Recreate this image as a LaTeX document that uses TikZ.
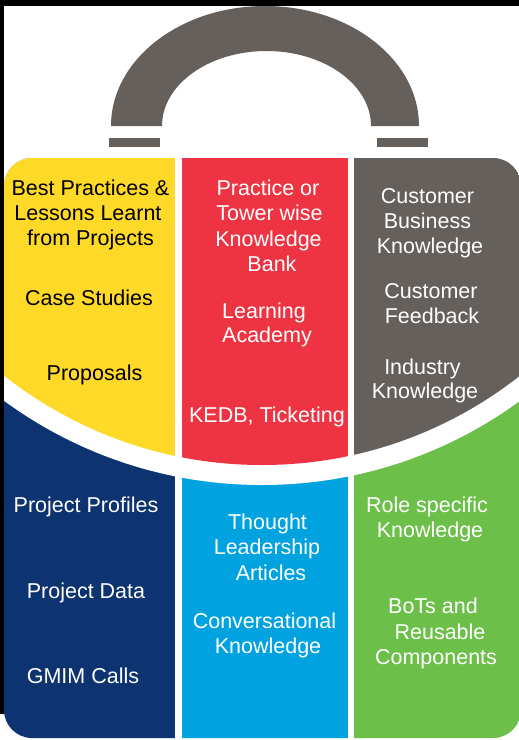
\documentclass[tikz,border=0pt]{standalone}
\usepackage{fontspec}
\setmainfont{Liberation Sans}
\definecolor{kyellow}{HTML}{FED928}
\definecolor{kred}{HTML}{EE3342}
\definecolor{kgray}{HTML}{65605C}
\definecolor{knavy}{HTML}{0D3370}
\definecolor{kblue}{HTML}{00A2DF}
\definecolor{kgreen}{HTML}{6CC04A}
\begin{document}
\begin{tikzpicture}[x=1pt,y=-1pt,
  txt/.style={font=\fontsize{21.5}{25}\selectfont, inner sep=0pt, anchor=base, text=white},
  dtxt/.style={txt, text=black},
  ltxt/.style={txt, anchor=base west}]
\useasboundingbox (0,0) rectangle (519,740);
\fill[white] (0,0) rectangle (519,740);
% handle
\fill[kgray] (111,126) arc[start angle=180,end angle=0,x radius=154pt,y radius=120pt]
  -- (371,126) arc[start angle=0,end angle=180,x radius=104.5pt,y radius=75pt] -- cycle;
\fill[kgray] (109,138) rectangle (160,147);
\fill[kgray] (377,138) rectangle (428,147);
% frame strips
\fill[black] (0,0) rectangle (519,5.5);
\fill[black] (0,0) rectangle (4,714);
% body
\begin{scope}
  \clip[rounded corners=28pt] (4,158) rectangle (521,738);
  \fill[knavy] (4,158) rectangle (175,740);
  \fill[kblue] (182,158) rectangle (348,740);
  \fill[kgreen] (354,158) rectangle (521,740);
  \fill[white] (262,48) circle[radius=437pt];
  \clip (262,48) circle[radius=417pt];
  \fill[kyellow] (4,158) rectangle (175,740);
  \fill[kred] (182,158) rectangle (348,740);
  \fill[kgray] (354,158) rectangle (521,740);
\end{scope}
% yellow
\node[dtxt] (ya) at (90.5,195) {Best Practices \&};
\node[dtxt] (yb) at (88,220) {Lessons Learnt};
\node[dtxt] (yc) at (90.5,245) {from Projects};
\node[dtxt] (yd) at (89,305) {Case Studies};
\node[dtxt] (ye) at (94.5,380) {Proposals};
% red
\node[txt] (ra) at (268,195) {Practice or};
\node[txt] (rb) at (269.5,220) {Tower wise};
\node[txt] (rc) at (268.5,246) {Knowledge};
\node[txt] (rd) at (272,271) {Bank};
\node[ltxt] (re) at (222,318) {Learning};
\node[ltxt] (rf) at (222,342) {Academy};
\node[txt] (rg) at (267,422) {KEDB, Ticketing};
% gray
\node[txt] (ga) at (427.5,203) {Customer};
\node[txt] (gb) at (427.5,228) {Business};
\node[txt] (gc) at (430,253) {Knowledge};
\node[txt] (gd) at (431,298) {Customer};
\node[txt] (ge) at (432,323) {Feedback};
\node[txt] (gf) at (422.5,374) {Industry};
\node[txt] (gg) at (425,398) {Knowledge};
% navy
\node[txt] (na) at (86,512) {Project Profiles};
\node[txt] (nb) at (86,598) {Project Data};
\node[txt] (nc) at (83,683) {GMIM Calls};
% blue
\node[txt] (ba) at (267.5,529) {Thought};
\node[txt] (bb) at (267,554.5) {Leadership};
\node[txt] (bc) at (271,580) {Articles};
\node[txt] (bd) at (264.5,628) {Conversational};
\node[txt] (be) at (268,653) {Knowledge};
% green
\node[txt] (ea) at (427,512) {Role specific};
\node[txt] (eb) at (430,537) {Knowledge};
\node[txt] (ec) at (433,613) {BoTs and};
\node[txt] (ed) at (440,639) {Reusable};
\node[txt] (ee) at (436,664) {Components};
\end{tikzpicture}
\end{document}
